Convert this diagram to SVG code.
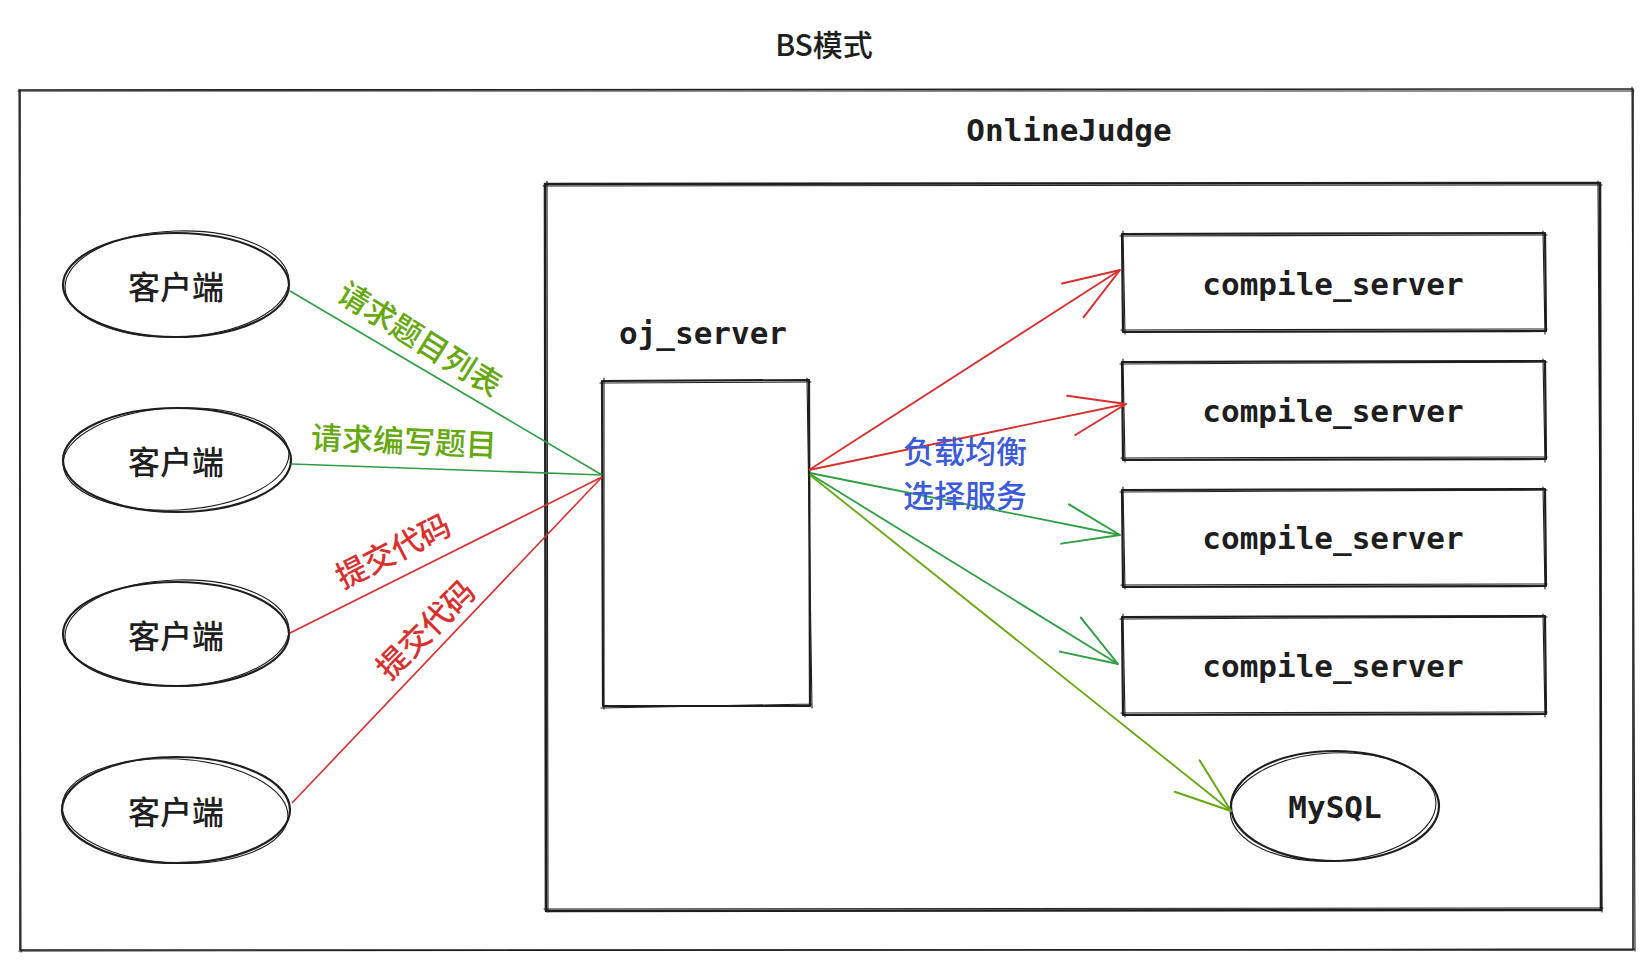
<svg xmlns="http://www.w3.org/2000/svg" width="1652" height="969" viewBox="0 0 1652 969">
<style>
.sk{fill:none;stroke:#1e1e1e;stroke-linecap:round;stroke-linejoin:round}
.s1{stroke-width:2.2}
.s2{stroke-width:1.1}
.mono{font-family:"DejaVu Sans Mono","Liberation Mono","Noto Sans CJK SC",monospace;font-weight:bold;font-size:31px;fill:#1e1e1e}
.cjk{font-family:"Noto Sans CJK SC","Noto Sans",sans-serif;font-size:31px;font-weight:500}
.cl{fill:#1e1e1e;font-size:32px}
.g{fill:#66a80f}
.r{fill:#d9302f}
.b{fill:#3b5bdb}
.ln{fill:none;stroke-width:1.8}
.thin{stroke-width:1.6}
.red{stroke:#d9302f}
.grn{stroke:#2f9e44}
.olv{stroke:#66a80f}
</style>
<defs>
<marker id="aR" viewBox="-70 -30 80 60" markerWidth="80" markerHeight="60" refX="0" refY="0" orient="auto" markerUnits="userSpaceOnUse"><path d="M-56,-20 L0,0 L-56,20" fill="none" stroke="#d9302f" stroke-width="2" stroke-linecap="round" stroke-linejoin="round"/></marker>
<marker id="aG" viewBox="-70 -30 80 60" markerWidth="80" markerHeight="60" refX="0" refY="0" orient="auto" markerUnits="userSpaceOnUse"><path d="M-56,-20 L0,0 L-56,20" fill="none" stroke="#2f9e44" stroke-width="2" stroke-linecap="round" stroke-linejoin="round"/></marker>
<marker id="aO" viewBox="-70 -30 80 60" markerWidth="80" markerHeight="60" refX="0" refY="0" orient="auto" markerUnits="userSpaceOnUse"><path d="M-56,-20 L0,0 L-56,20" fill="none" stroke="#66a80f" stroke-width="2" stroke-linecap="round" stroke-linejoin="round"/></marker>
</defs>
<rect width="1652" height="969" fill="#ffffff"/>

<g id="title">
<text x="824" y="43" text-anchor="middle" dominant-baseline="central" class="cjk" style="fill:#1e1e1e;font-size:30px">BS模式</text>
</g>

<g id="bs-frame">
<path class="sk" stroke-width="1.6" d="M20,90 L1633,89 L1633,950 L20,950 Z"/>
<path class="sk s2" d="M18,91 L1634,91 M1632,87 L1635,951 M1635,949 L19,951 M21,952 L19,89"/>
</g>

<g id="onlinejudge">
<text x="1069" y="130" text-anchor="middle" dominant-baseline="central" class="mono">OnlineJudge</text>
<path class="sk" stroke-width="2.6" d="M545,184 L1600,183 L1601,910 L546,911 Z"/>
<path class="sk s2" d="M543,186 L1602,185 M1598,181 L1602,912 M1603,908 L544,909 M548,912 L547,181"/>
</g>

<g id="oj_server">
<text x="703" y="333" text-anchor="middle" dominant-baseline="central" class="mono">oj_server</text>
<path class="sk s1" d="M602,381 L809,380 L810,706 L603,706 Z"/>
<path class="sk s2" d="M600,383 L811,382 M807,378 L812,708 M812,704 L601,708 M604,709 L604,378"/>
</g>

<g id="compile_server_1">
<path class="sk s1" d="M1122,234 L1545,233 L1546,331 L1123,332 Z"/>
<path class="sk s2" d="M1120,236 L1547,235 M1543,231 L1545,334 M1547,329 L1121,330 M1125,334 L1123,231"/>
<text x="1333" y="284" text-anchor="middle" dominant-baseline="central" class="mono">compile_server</text>
</g>

<g id="compile_server_2">
<path class="sk s1" d="M1122,362 L1545,361 L1546,459 L1123,460 Z"/>
<path class="sk s2" d="M1120,364 L1547,362 M1543,359 L1545,462 M1547,457 L1121,458 M1125,462 L1123,359"/>
<text x="1333" y="411" text-anchor="middle" dominant-baseline="central" class="mono">compile_server</text>
</g>

<g id="compile_server_3">
<path class="sk s1" d="M1122,490 L1545,489 L1546,586 L1123,587 Z"/>
<path class="sk s2" d="M1120,492 L1547,490 M1543,487 L1545,589 M1547,584 L1121,585 M1125,589 L1123,487"/>
<text x="1333" y="538" text-anchor="middle" dominant-baseline="central" class="mono">compile_server</text>
</g>

<g id="compile_server_4">
<path class="sk s1" d="M1122,617 L1545,616 L1546,714 L1123,715 Z"/>
<path class="sk s2" d="M1120,619 L1547,617 M1543,614 L1545,717 M1547,712 L1121,713 M1125,717 L1123,614"/>
<text x="1333" y="666" text-anchor="middle" dominant-baseline="central" class="mono">compile_server</text>
</g>

<g id="mysql">
<ellipse class="sk s1" cx="1335" cy="806" rx="104" ry="55"/>
<ellipse class="sk s2" cx="1333" cy="807" rx="103" ry="54" transform="rotate(-3 1333 807)"/>
<text x="1335" y="807" text-anchor="middle" dominant-baseline="central" class="mono">MySQL</text>
</g>

<g id="client_1">
<ellipse class="sk s1" cx="176" cy="285" rx="113" ry="52"/>
<ellipse class="sk s2" cx="177" cy="284" rx="112" ry="53" transform="rotate(-2 177 284)"/>
<text x="176" y="285" text-anchor="middle" dominant-baseline="central" class="cjk cl">客户端</text>
</g>
<g id="client_2">
<ellipse class="sk s1" cx="177" cy="460" rx="114" ry="52"/>
<ellipse class="sk s2" cx="176" cy="459" rx="113" ry="51" transform="rotate(-3 176 459)"/>
<text x="176" y="460" text-anchor="middle" dominant-baseline="central" class="cjk cl">客户端</text>
</g>
<g id="client_3">
<ellipse class="sk s1" cx="176" cy="634" rx="113" ry="52"/>
<ellipse class="sk s2" cx="177" cy="633" rx="112" ry="53" transform="rotate(-2 177 633)"/>
<text x="176" y="634" text-anchor="middle" dominant-baseline="central" class="cjk cl">客户端</text>
</g>
<g id="client_4">
<ellipse class="sk s1" cx="176" cy="810" rx="114" ry="53"/>
<ellipse class="sk s2" cx="175" cy="811" rx="113" ry="52" transform="rotate(3 175 811)"/>
<text x="176" y="810" text-anchor="middle" dominant-baseline="central" class="cjk cl">客户端</text>
</g>

<g id="connectors">
<path class="ln thin grn" d="M290,291 L602,475"/>
<path class="ln thin grn" d="M292,464 L602,475"/>
<path class="ln thin red" d="M290,633 L602,477"/>
<path class="ln thin red" d="M292,803 L602,477"/>
<path class="ln red" d="M809,470 L1120,270" marker-end="url(#aR)"/>
<path class="ln red" d="M809,470 L1126,404" marker-end="url(#aR)"/>
<path class="ln grn" d="M810,473 L1120,535" marker-end="url(#aG)"/>
<path class="ln grn" d="M810,474 L1118,664" marker-end="url(#aG)"/>
<path class="ln olv" d="M810,475 L1231,811" marker-end="url(#aO)"/>
</g>

<g id="labels">
<text class="cjk g" x="0" y="0" text-anchor="middle" dominant-baseline="central" transform="translate(421 337) rotate(32)">请求题目列表</text>
<text class="cjk g" x="0" y="0" text-anchor="middle" dominant-baseline="central" transform="translate(404 439) rotate(2.5)">请求编写题目</text>
<text class="cjk r" x="0" y="0" text-anchor="middle" dominant-baseline="central" transform="translate(392 549) rotate(-27)">提交代码</text>
<text class="cjk r" x="0" y="0" text-anchor="middle" dominant-baseline="central" transform="translate(424 628) rotate(-45)">提交代码</text>
<text class="cjk b" x="903" y="449" dominant-baseline="central">负载均衡</text>
<text class="cjk b" x="903" y="493" dominant-baseline="central">选择服务</text>
</g>
</svg>
